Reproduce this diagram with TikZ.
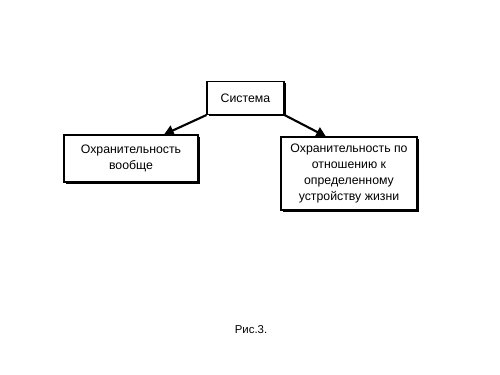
\documentclass[tikz,border=0pt]{standalone}
\usepackage{fontspec}
\setsansfont{Liberation Sans}
\usepackage{tikz}
\usetikzlibrary{arrows.meta,shadows}

\begin{document}
\begin{tikzpicture}[
  x=0.02cm,y=-0.02cm,
  font=\sffamily\fontsize{7}{9}\selectfont,
  box/.style={draw=black, line width=0.6pt, fill=white, align=center, inner sep=2pt,
    drop shadow={shadow xshift=1.1pt, shadow yshift=-1.1pt, fill=black, opacity=1}},
  arr/.style={-{Triangle[length=5.5pt,width=6pt]}, line width=1.2pt},
  capt/.style={font=\sffamily\fontsize{6.5}{8}\selectfont},
]
\useasboundingbox (0,0) rectangle (500,375);
% boxes
\node[box,minimum width=1.54cm,minimum height=0.66cm] (sys) at (245.5,98) {Система};
\node[box,minimum width=2.68cm,minimum height=0.94cm] (gen) at (131,158.5) {Охранительность\\вообще};
\node[box,minimum width=2.72cm,minimum height=1.46cm] (spec) at (349,173.5) {Охранительность по\\отношению к\\определенному\\устройству жизни};
% arrows
\draw[arr] (sys.south west) -- (gen.36);
\draw[arr] (sys.south east) -- (spec.122);
% caption
\node[capt] (cap) at (251,330) {Рис.3.};
\end{tikzpicture}
\end{document}
